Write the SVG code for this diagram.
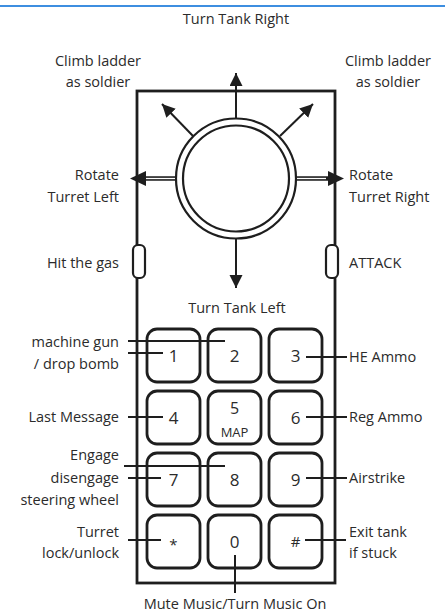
<svg xmlns="http://www.w3.org/2000/svg" width="445" height="616" viewBox="0 0 445 616">
<style>
  .t { font-family: "Open Sans", "Noto Sans", sans-serif; font-size: 14.5px; fill: #2b2b2b; }
  .e { text-anchor: end; }
  .m { text-anchor: middle; }
  .k { font-family: "Open Sans", "Noto Sans", sans-serif; font-size: 17px; fill: #2b2b2b; text-anchor: middle; }
  .key { fill: #fff; stroke: #1e1e1e; stroke-width: 2.8; }
  .ln { stroke: #1e1e1e; stroke-width: 2; fill: none; }
  .arr { stroke: #1e1e1e; stroke-width: 2; fill: none; marker-end: url(#ah); }
  .hd { fill: #1e1e1e; }
</style>
<defs>
  <marker id="ah" markerUnits="userSpaceOnUse" markerWidth="16" markerHeight="14" refX="13" refY="6.5" orient="auto">
    <path d="M0,0 L13,6.5 L0,13 Z" fill="#1e1e1e"/>
  </marker>
</defs>
<rect width="445" height="616" fill="#fff"/>
<line x1="0" y1="6" x2="445" y2="6" stroke="#3d8ee0" stroke-width="2"/>

<g id="body">
  <rect x="137" y="91" width="198" height="492" fill="none" stroke="#1e1e1e" stroke-width="2.8"/>
  <rect id="btn-left" x="133" y="245" width="12" height="33" rx="5" fill="#fff" stroke="#1e1e1e" stroke-width="2.2"/>
  <rect id="btn-right" x="326" y="245" width="12" height="33" rx="5" fill="#fff" stroke="#1e1e1e" stroke-width="2.2"/>
</g>

<g id="joystick">
  <circle cx="236" cy="178.5" r="60" fill="#fff" stroke="#1e1e1e" stroke-width="2.2"/>
  <circle cx="236" cy="178.5" r="53" fill="#fff" stroke="#1e1e1e" stroke-width="2.2"/>
</g>

<g id="key-1"><rect class="key" x="147" y="329" width="53" height="53" rx="10"/><text class="k" x="173.5" y="362">1</text></g>
<g id="key-2"><rect class="key" x="208" y="329" width="53" height="53" rx="10"/><text class="k" x="234.5" y="362">2</text></g>
<g id="key-3"><rect class="key" x="269" y="329" width="53" height="53" rx="10"/><text class="k" x="295.5" y="362">3</text></g>
<g id="key-4"><rect class="key" x="147" y="391" width="53" height="53" rx="10"/><text class="k" x="173.5" y="424">4</text></g>
<g id="key-5"><rect class="key" x="208" y="391" width="53" height="53" rx="10"/><text class="k" x="234.5" y="414" style="font-size:16px">5</text><text class="k" x="234.5" y="437" style="font-size:13px">MAP</text></g>
<g id="key-6"><rect class="key" x="269" y="391" width="53" height="53" rx="10"/><text class="k" x="295.5" y="424">6</text></g>
<g id="key-7"><rect class="key" x="147" y="453" width="53" height="53" rx="10"/><text class="k" x="173.5" y="486">7</text></g>
<g id="key-8"><rect class="key" x="208" y="453" width="53" height="53" rx="10"/><text class="k" x="234.5" y="486">8</text></g>
<g id="key-9"><rect class="key" x="269" y="453" width="53" height="53" rx="10"/><text class="k" x="295.5" y="486">9</text></g>
<g id="key-star"><rect class="key" x="147" y="515" width="53" height="53" rx="10"/><text class="k" x="173.5" y="550" style="font-size:15px">*</text></g>
<g id="key-0"><rect class="key" x="208" y="515" width="53" height="53" rx="10"/><text class="k" x="234.5" y="548">0</text></g>
<g id="key-hash"><rect class="key" x="269" y="515" width="53" height="53" rx="10"/><text class="k" x="295.5" y="547" style="font-size:15px">#</text></g>

<g id="connectors">
  <line class="arr" x1="236" y1="118" x2="236" y2="73"/>
  <line class="arr" x1="193" y1="136" x2="162" y2="104"/>
  <line class="arr" x1="280" y1="136" x2="313" y2="104"/>
  <line class="arr" x1="236" y1="239" x2="236" y2="288"/>
  <line x1="176" y1="178.5" x2="143" y2="178.5" stroke="#1e1e1e" stroke-width="4.5"/>
  <line x1="175" y1="178.5" x2="146" y2="178.5" stroke="#fff" stroke-width="1.3"/>
  <polygon class="hd" points="130,178.5 146,171 146,186"/>
  <line x1="296" y1="178.5" x2="329" y2="178.5" stroke="#1e1e1e" stroke-width="4.5"/>
  <line x1="297" y1="178.5" x2="326" y2="178.5" stroke="#fff" stroke-width="1.3"/>
  <polygon class="hd" points="344,178.5 328,171 328,186"/>
  <line class="ln" x1="128" y1="341" x2="225" y2="341"/>
  <line class="ln" x1="128" y1="353" x2="163" y2="353"/>
  <line class="ln" x1="306" y1="357" x2="347" y2="357"/>
  <line class="ln" x1="128" y1="417" x2="163" y2="417"/>
  <line class="ln" x1="306" y1="417" x2="347" y2="417"/>
  <line class="ln" x1="124" y1="466" x2="225" y2="466"/>
  <line class="ln" x1="128" y1="478" x2="161" y2="478"/>
  <line class="ln" x1="306" y1="478" x2="347" y2="478"/>
  <line class="ln" x1="128" y1="540" x2="161" y2="540"/>
  <line class="ln" x1="305" y1="540" x2="346" y2="540"/>
  <line class="ln" x1="235" y1="555" x2="235" y2="593"/>
</g>

<g id="labels">
  <text class="t m" x="236" y="24">Turn Tank Right</text>
  <text class="t m" x="98" y="66">Climb ladder</text>
  <text class="t m" x="98" y="87">as soldier</text>
  <text class="t m" x="388" y="66">Climb ladder</text>
  <text class="t m" x="388" y="87">as soldier</text>
  <text class="t e" x="119" y="180">Rotate</text>
  <text class="t e" x="119" y="202">Turret Left</text>
  <text class="t" x="349" y="180">Rotate</text>
  <text class="t" x="349" y="202">Turret Right</text>
  <text class="t e" x="119" y="268">Hit the gas</text>
  <text class="t" x="349" y="268">ATTACK</text>
  <text class="t m" x="237" y="313">Turn Tank Left</text>
  <text class="t e" x="119" y="347">machine gun</text>
  <text class="t e" x="119" y="369">/ drop bomb</text>
  <text class="t" x="349" y="362">HE Ammo</text>
  <text class="t e" x="119" y="422">Last Message</text>
  <text class="t" x="349" y="422">Reg Ammo</text>
  <text class="t e" x="119" y="460">Engage</text>
  <text class="t e" x="119" y="483">disengage</text>
  <text class="t e" x="119" y="505">steering wheel</text>
  <text class="t" x="349" y="483">Airstrike</text>
  <text class="t e" x="119" y="537">Turret</text>
  <text class="t e" x="119" y="558">lock/unlock</text>
  <text class="t" x="349" y="537">Exit tank</text>
  <text class="t" x="349" y="558">if stuck</text>
  <text class="t m" x="235" y="609">Mute Music/Turn Music On</text>
</g>
</svg>
